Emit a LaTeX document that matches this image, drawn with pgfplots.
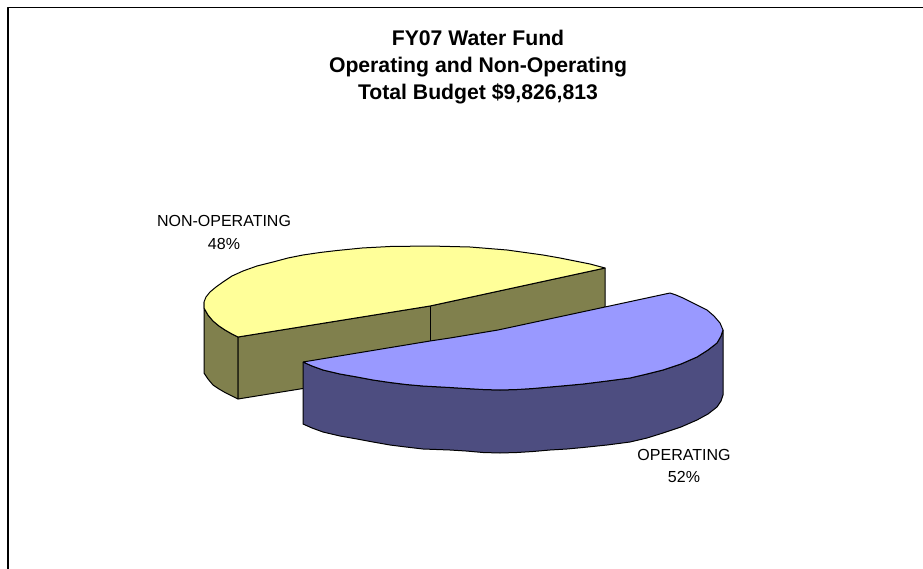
\documentclass[border=0pt]{standalone}
\usepackage{pgfplots}
\pgfplotsset{compat=1.18}
\usepackage{fontspec}
\setmainfont{Liberation Sans}
\definecolor{yel}{HTML}{FFFF99}
\definecolor{olv}{HTML}{80804D}
\definecolor{blu}{HTML}{9999FF}
\definecolor{dbl}{HTML}{4D4D80}
\begin{document}
\begin{tikzpicture}[x=1bp,y=1bp]
\path[use as bounding box] (0,0) rectangle (923bp,569bp);
\begin{axis}[
  at={(0,0)}, anchor=south west,
  scale only axis, width=923bp, height=569bp,
  xmin=0, xmax=923, ymin=0, ymax=569, y dir=reverse,
  hide axis, clip=true,
  every axis plot/.append style={line width=1bp, line join=round},
]
% frame
\addplot[black, line width=1.2bp] coordinates {(8,569) (8,7.5) (923,7.5)};
% non-operating side: outer left
\addplot[draw=black, fill=olv] coordinates {(204,302) (204,373) (208,379) (213,385) (219,389) (225,392.5) (232,396) (238,399) (238,337) (232,334) (225,330) (219,326) (213,321) (208,315) (204,308) (204,302)};
% non-operating: cut faces
\addplot[draw=black, fill=olv] coordinates {(238,337) (238,399) (430,368) (605,307) (605,268) (430,306) (238,337)};
\addplot[draw=black] coordinates {(430,306) (430,342)};
% non-operating top
\addplot[draw=black, fill=yel] coordinates {(238,337) (232,334) (225,330) (219,326) (213,321) (208,315) (204,308) (204,302) (206,297) (210,292) (216,287) (223,282) (232,276) (243,271) (257,266) (273,262) (288,258) (303,255) (320,252.5) (337,250.5) (362,248) (390,246.5) (430,246) (470,247) (507,250) (525,252.5) (543,255) (560,258) (575,261) (590,264) (605,268) (430,306) (238,337)};
% operating side
\addplot[draw=black, fill=dbl] coordinates {(303,362) (303,424) (312,428) (323,432) (340,436) (357,439) (373,442) (390,445) (406,447) (423,449) (450,450) (466,451) (483,452.5) (500,453) (517,452.5) (533,451.5) (550,450) (567,449) (583,447.5) (607,445) (630,442) (647,438) (663,433) (681,427) (697,420) (708,414) (717,407) (721,401) (723,395) (723,330) (721,336) (717,343) (708,350) (697,357) (681,364) (663,370) (647,374) (630,378) (607,381) (583,384) (567,385.5) (550,387) (533,388.5) (517,389.5) (500,390) (483,389.5) (466,388.5) (450,387.5) (423,386) (406,384.5) (390,382.5) (373,380) (357,377) (340,374) (323,370) (312,366) (303,362)};
% operating top
\addplot[draw=black, fill=blu] coordinates {(303,362) (430,341) (450,338) (498,330) (605,307) (670,293) (676,295) (683,298) (695,304) (707,310) (714,316) (720,323) (723,330) (721,336) (717,343) (708,350) (697,357) (681,364) (663,370) (647,374) (630,378) (607,381) (583,384) (567,385.5) (550,387) (533,388.5) (517,389.5) (500,390) (483,389.5) (466,388.5) (450,387.5) (423,386) (406,384.5) (390,382.5) (373,380) (357,377) (340,374) (323,370) (312,366) (303,362)};
\node[align=center, font=\fontsize{21.2bp}{27bp}\selectfont\bfseries] at (axis cs:478,67) {FY07 Water Fund\\Operating and Non-Operating\\Total Budget \$9,826,813};
\node[align=center, font=\fontsize{16bp}{23bp}\selectfont] at (axis cs:224,232) {NON-OPERATING\\48\%};
\node[align=center, font=\fontsize{16bp}{22.5bp}\selectfont] at (axis cs:684,466) {OPERATING\\52\%};
\end{axis}
\end{tikzpicture}
\end{document}
